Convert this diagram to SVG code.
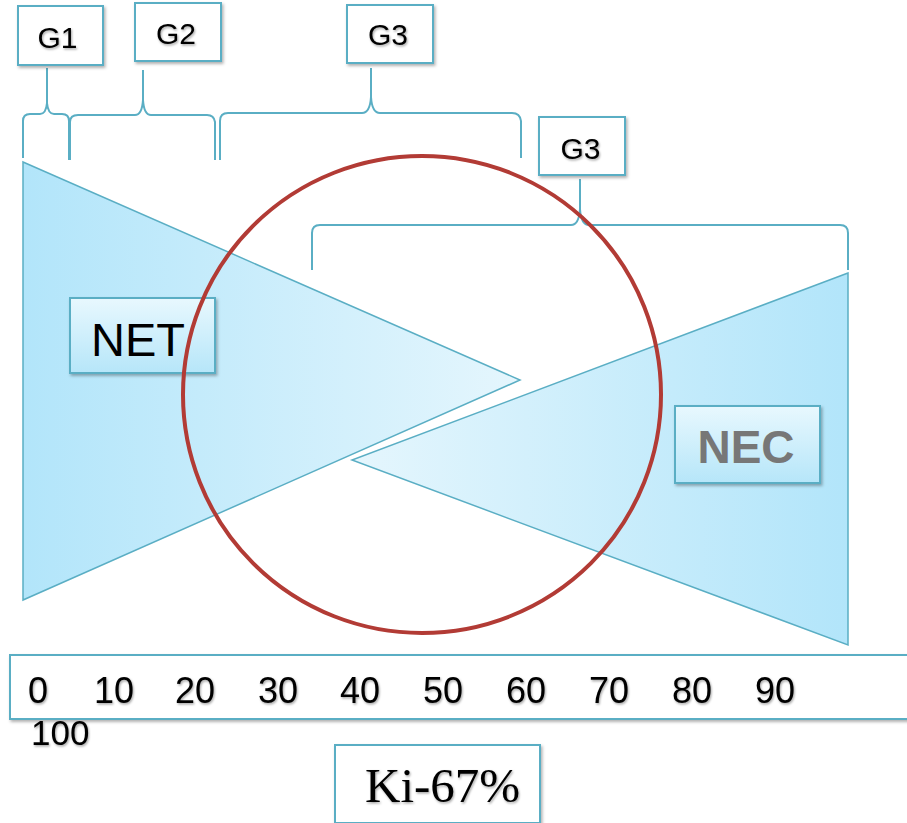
<svg xmlns="http://www.w3.org/2000/svg" width="907" height="823" viewBox="0 0 907 823">
<defs>
<linearGradient id="gNet" x1="0" y1="0" x2="1" y2="0">
<stop offset="0" stop-color="#b2e5fa"/>
<stop offset="1" stop-color="#e5f6fd"/>
</linearGradient>
<linearGradient id="gNec" x1="1" y1="0" x2="0" y2="0">
<stop offset="0" stop-color="#b2e5fa"/>
<stop offset="1" stop-color="#e5f6fd"/>
</linearGradient>
<linearGradient id="gLbl" x1="0" y1="0" x2="0" y2="1">
<stop offset="0" stop-color="#e8f8fe"/>
<stop offset="1" stop-color="#b6e6f9"/>
</linearGradient>
<filter id="sh" x="-10%" y="-10%" width="130%" height="130%">
<feDropShadow dx="1.5" dy="2" stdDeviation="1.5" flood-color="#000" flood-opacity="0.3"/>
</filter>
<filter id="tsh" x="-10%" y="-10%" width="130%" height="130%">
<feDropShadow dx="1" dy="1.5" stdDeviation="1" flood-color="#000" flood-opacity="0.35"/>
</filter>
</defs>
<style>
.box{fill:#fff;stroke:#5aaec4;stroke-width:2}
.lbl{fill:url(#gLbl);stroke:#5aaec4;stroke-width:2}
.t{font-family:"Liberation Sans",Arial,sans-serif;fill:#000}
.brace{fill:none;stroke:#5aaec4;stroke-width:2}
.tri{stroke:#5aaec4;stroke-width:1.5}
</style>
<rect width="907" height="823" fill="#fff"/>

<g id="net-shape">
<polygon class="tri" points="23,162 520,380 23,600" fill="url(#gNet)"/>
</g>
<g id="nec-shape">
<polygon class="tri" points="848,273 352,460 848,645" fill="url(#gNec)"/>
</g>

<g id="connectors">
<path class="brace" d="M23,158 V121 Q23,114 30,114 H40 Q46,114 47,103 Q48,114 54,114 H62 Q69,114 69,121 V160 M47,103 V68"/>
<path class="brace" d="M70,160 V122 Q70,115 78,115 H135 Q142,115 143,100 Q144,115 151,115 H207 Q214,115 215,122 V160 M143,100 V70"/>
<path class="brace" d="M220,160 V121 Q220,113 228,113 H362 Q370,113 371,97 Q372,113 380,113 H512 Q520,113 521,121 V158 M371,97 V68"/>
<path class="brace" d="M312,270 V233 Q312,225 320,225 H571 Q579,225 580,209 Q581,225 589,225 H840 Q848,225 848,233 V270 M580,209 V179"/>
</g>

<g id="g1">
<rect class="box" x="18" y="6" width="85" height="59" filter="url(#sh)"/>
<text class="t" x="57.5" y="48" font-size="30" text-anchor="middle" filter="url(#tsh)">G1</text>
</g>
<g id="g2">
<rect class="box" x="135" y="3" width="86" height="58" filter="url(#sh)"/>
<text class="t" x="176" y="44" font-size="30" text-anchor="middle" filter="url(#tsh)">G2</text>
</g>
<g id="g3a">
<rect class="box" x="347" y="5" width="86" height="58" filter="url(#sh)"/>
<text class="t" x="388" y="45" font-size="30" text-anchor="middle" filter="url(#tsh)">G3</text>
</g>
<g id="g3b">
<rect class="box" x="539" y="117" width="86" height="58" filter="url(#sh)"/>
<text class="t" x="580.5" y="159" font-size="30" text-anchor="middle" filter="url(#tsh)">G3</text>
</g>

<g id="net">
<rect class="lbl" x="70" y="298" width="145" height="75" filter="url(#sh)"/>
<text class="t" x="138" y="356" font-size="47" text-anchor="middle">NET</text>
</g>
<g id="nec">
<rect class="lbl" x="675" y="406" width="145" height="77" filter="url(#sh)"/>
<text x="746" y="463" font-size="46" font-weight="bold" text-anchor="middle" font-family="Liberation Sans, Arial, sans-serif" fill="#777">NEC</text>
</g>

<g id="circle">
<ellipse cx="422" cy="394.5" rx="239" ry="238.5" fill="none" stroke="#b23b35" stroke-width="4"/>
</g>

<g id="scale">
<rect class="box" x="10" y="655" width="905" height="64" filter="url(#sh)"/>
<text class="t" y="703" font-size="36" filter="url(#tsh)"><tspan x="28">0</tspan><tspan x="94">10</tspan><tspan x="175">20</tspan><tspan x="258">30</tspan><tspan x="340">40</tspan><tspan x="423">50</tspan><tspan x="506">60</tspan><tspan x="589">70</tspan><tspan x="672">80</tspan><tspan x="755">90</tspan></text>
<text class="t" x="31" y="745" font-size="35" filter="url(#tsh)">100</text>
</g>

<g id="ki67">
<rect class="box" x="335" y="745" width="205" height="78" filter="url(#sh)"/>
<text x="365" y="802" font-size="49" font-family="Liberation Serif, 'Times New Roman', serif" fill="#000" filter="url(#tsh)">Ki-67%</text>
</g>
</svg>
